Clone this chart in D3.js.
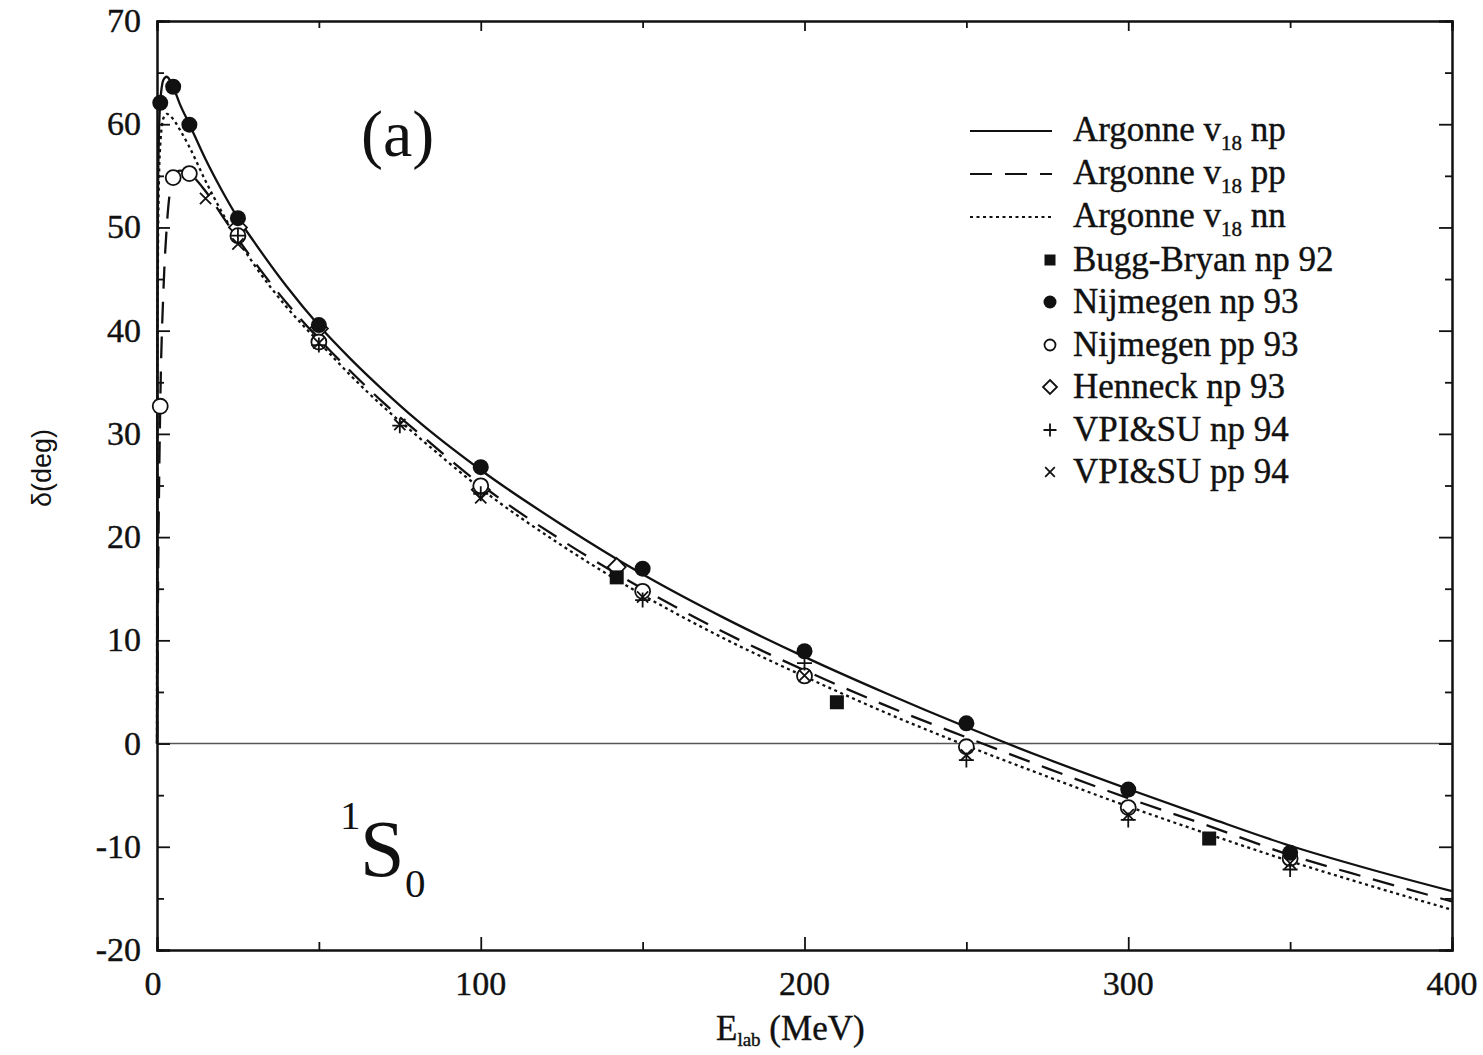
<!DOCTYPE html>
<html>
<head>
<meta charset="utf-8">
<script src="https://cdn.jsdelivr.net/npm/d3@7"></script>
<style>
  html, body { margin: 0; padding: 0; background: #fff; }
  svg { display: block; }
</style>
</head>
<body>
<svg id="chart" width="1483" height="1055"></svg>
<script>
// ---------------- data ----------------
const energies = [0, 0.1, 0.3, 0.5, 1, 2, 3, 5, 7, 10, 15, 20, 25, 30, 40, 50, 60, 70, 80, 100, 125, 150, 175, 200, 225, 250, 275, 300, 325, 350, 375, 400];
const av18np = [0, 40, 53, 57.5, 62.1, 64.3, 64.6, 63.6, 62.0, 60.0, 56.6, 53.6, 50.9, 48.6, 44.3, 40.5, 37.2, 34.2, 31.4, 26.5, 21.2, 16.4, 12.2, 8.4, 4.9, 1.6, -1.5, -4.4, -7.2, -9.9, -12.2, -14.3];
const av18pp = [0, 3, 14, 21, 32.7, 44, 50, 54.8, 55.5, 55.2, 53.5, 51.2, 48.9, 46.7, 42.7, 39.2, 36.0, 33.0, 30.3, 25.1, 19.7, 15.0, 10.8, 7.1, 3.7, 0.6, -2.4, -5.3, -8.0, -10.8, -13.1, -15.3];
const av18nn = [0, 30, 47, 53, 58, 60.6, 61.0, 60.5, 59.5, 57.8, 54.5, 51.5, 48.8, 46.4, 42.3, 38.9, 35.6, 32.6, 29.9, 24.7, 19.2, 14.4, 10.2, 6.5, 3.0, -0.2, -3.2, -6.1, -8.8, -11.4, -13.8, -16.1];

const buggBryanNp92 = [[142, 16.1], [210, 4.0], [325, -9.2]];
const nijmegenNp93 = [[1, 62.07], [5, 63.63], [10, 59.96], [25, 50.90], [50, 40.54], [100, 26.78], [150, 16.94], [200, 8.94], [250, 1.96], [300, -4.46], [350, -10.59]];
const nijmegenPp93 = [[1, 32.68], [5, 54.83], [10, 55.22], [25, 49.2], [50, 38.9], [100, 24.97], [150, 14.75], [200, 6.55], [250, -0.31], [300, -6.20], [350, -11.13]];
const henneckNp93 = [[25, 50.0], [50, 40.2], [100, 24.6], [142, 17.1]];
const vpiNp94 = [[25, 49.2], [50, 38.6], [75, 30.8], [100, 24.2], [150, 13.9], [200, 7.8], [250, -1.6], [300, -7.4], [350, -12.2]];
const vpiPp94 = [[15, 52.8], [25, 48.4], [50, 38.8], [75, 30.9], [100, 23.8], [150, 14.2], [200, 6.6], [250, -1.1], [300, -6.9], [350, -11.6]];

const xTicks = [0, 100, 200, 300, 400];
const xMinorTicks = [50, 150, 250, 350];
const yTicks = [-20, -10, 0, 10, 20, 30, 40, 50, 60, 70];
const yMinorTicks = [-15, -5, 5, 15, 25, 35, 45, 55, 65];

const curveLabels = ["Argonne v", "Argonne v", "Argonne v"];
const curveSuffix = [" np", " pp", " nn"];
const markerLabels = ["Bugg-Bryan np 92", "Nijmegen np 93", "Nijmegen pp 93", "Henneck np 93", "VPI&SU np 94", "VPI&SU pp 94"];

// ---------------- layout ----------------
const svg = d3.select("#chart");
const L = 157, R = 1452, T = 21, B = 950;
const x = d3.scaleLinear().domain([0, 400]).range([L, R]);
const y = d3.scaleLinear().domain([-20, 70]).range([B, T]);
const serif = "'Liberation Serif', 'Times New Roman', serif";
const sans = "'Liberation Sans', Arial, sans-serif";
const ink = "#111";

// zero line
svg.append("line")
  .attr("x1", x(0)).attr("x2", x(400))
  .attr("y1", y(0)).attr("y2", y(0))
  .attr("stroke", "#555").attr("stroke-width", 1.6);

// axes (ticks inward)
const axB = d3.axisBottom(x).tickValues(xTicks).tickSize(-13).tickFormat("");
const axBm = d3.axisBottom(x).tickValues(xMinorTicks).tickSize(-8).tickFormat("");
const axT = d3.axisTop(x).tickValues(xTicks).tickSize(-10).tickFormat("");
const axTm = d3.axisTop(x).tickValues(xMinorTicks).tickSize(-7).tickFormat("");
const axL = d3.axisLeft(y).tickValues(yTicks).tickSize(-13).tickFormat("");
const axLm = d3.axisLeft(y).tickValues(yMinorTicks).tickSize(-7).tickFormat("");
const axR = d3.axisRight(y).tickValues(yTicks).tickSize(-13).tickFormat("");
const axRm = d3.axisRight(y).tickValues(yMinorTicks).tickSize(-7).tickFormat("");

function addAxis(ax, tr) {
  const g = svg.append("g").attr("transform", tr).call(ax);
  g.selectAll("path.domain").attr("stroke", ink).attr("stroke-width", 2);
  g.selectAll(".tick line").attr("stroke", ink).attr("stroke-width", 1.8);
  return g;
}
addAxis(axB, `translate(0,${B})`);
addAxis(axBm, `translate(0,${B})`);
addAxis(axT, `translate(0,${T})`);
addAxis(axTm, `translate(0,${T})`);
addAxis(axL, `translate(${L},0)`);
addAxis(axLm, `translate(${L},0)`);
addAxis(axR, `translate(${R},0)`);
addAxis(axRm, `translate(${R},0)`);

// tick labels
svg.append("g").selectAll("text").data(yTicks).join("text")
  .attr("x", L - 16).attr("y", d => y(d) + 11)
  .attr("text-anchor", "end")
  .attr("font-family", serif).attr("font-size", 34)
  .attr("fill", ink).attr("stroke", ink).attr("stroke-width", 0.4)
  .text(d => d);
svg.append("g").selectAll("text").data(xTicks).join("text")
  .attr("x", d => x(d) - (d === 0 ? 4 : 0)).attr("y", B + 45)
  .attr("text-anchor", "middle")
  .attr("font-family", serif).attr("font-size", 34)
  .attr("fill", ink).attr("stroke", ink).attr("stroke-width", 0.4)
  .text(d => d);

// axis titles
svg.append("text")
  .attr("transform", "translate(51,468) rotate(-90)")
  .attr("text-anchor", "middle")
  .attr("font-family", sans).attr("font-size", 27).attr("fill", ink)
  .text("δ(deg)");
const xt = svg.append("text")
  .attr("x", 716).attr("y", 1040)
  .attr("font-family", serif).attr("font-size", 35).attr("fill", ink)
  .attr("stroke", ink).attr("stroke-width", 0.4);
xt.append("tspan").text("E");
xt.append("tspan").attr("dy", 6).attr("font-size", 19).text("lab");
xt.append("tspan").attr("dy", -6).text(" (MeV)");

// curves
const line = d3.line().x(d => x(d[0])).y(d => y(d[1])).curve(d3.curveMonotoneX);
const curveDefs = [
  { vals: av18np, dash: null, w: 2.3 },
  { vals: av18pp, dash: "22,13", w: 2.3 },
  { vals: av18nn, dash: "3,3.5", w: 2.3 }
];
curveDefs.forEach(c => {
  svg.append("path")
    .datum(energies.map((e, i) => [e, c.vals[i]]))
    .attr("d", line)
    .attr("fill", "none")
    .attr("stroke", ink)
    .attr("stroke-width", c.w)
    .attr("stroke-dasharray", c.dash);
});

// markers
function drawMarker(g, type, cx, cy, s) {
  if (type === "square") {
    g.append("rect").attr("x", cx - s / 2).attr("y", cy - s / 2).attr("width", s).attr("height", s).attr("fill", ink);
  } else if (type === "filled") {
    g.append("circle").attr("cx", cx).attr("cy", cy).attr("r", s / 2).attr("fill", ink);
  } else if (type === "open") {
    g.append("circle").attr("cx", cx).attr("cy", cy).attr("r", s / 2 - 1).attr("fill", "#fff").attr("stroke", ink).attr("stroke-width", 1.8);
  } else if (type === "diamond") {
    const h = s / 2;
    g.append("path").attr("d", `M${cx},${cy - h}L${cx + h},${cy}L${cx},${cy + h}L${cx - h},${cy}Z`)
      .attr("fill", "#fff").attr("stroke", ink).attr("stroke-width", 1.8);
  } else if (type === "plus") {
    const h = s / 2;
    g.append("path").attr("d", `M${cx - h},${cy}H${cx + h}M${cx},${cy - h}V${cy + h}`)
      .attr("stroke", ink).attr("stroke-width", 1.8);
  } else if (type === "times") {
    const h = s / 2 * 0.8;
    g.append("path").attr("d", `M${cx - h},${cy - h}L${cx + h},${cy + h}M${cx - h},${cy + h}L${cx + h},${cy - h}`)
      .attr("stroke", ink).attr("stroke-width", 1.8);
  }
}
const markerSets = [
  { data: henneckNp93, type: "diamond", s: 18 },
  { data: nijmegenPp93, type: "open", s: 17 },
  { data: vpiNp94, type: "plus", s: 15 },
  { data: vpiPp94, type: "times", s: 14 },
  { data: buggBryanNp92, type: "square", s: 14 },
  { data: nijmegenNp93, type: "filled", s: 16 }
];
const gm = svg.append("g");
markerSets.forEach(m => m.data.forEach(d => drawMarker(gm, m.type, x(d[0]), y(d[1]), m.s)));

// legend
const lg = svg.append("g");
const rowY = [131, 174, 217, 260, 302, 345, 387, 430, 472];
curveDefs.forEach((c, i) => {
  lg.append("line").attr("x1", 970).attr("x2", 1052).attr("y1", rowY[i]).attr("y2", rowY[i])
    .attr("stroke", ink).attr("stroke-width", 2).attr("stroke-dasharray", c.dash);
  const t = lg.append("text").attr("x", 1073).attr("y", rowY[i] + 10)
    .attr("font-family", serif).attr("font-size", 35).attr("fill", ink)
    .attr("stroke", ink).attr("stroke-width", 0.4);
  t.append("tspan").text(curveLabels[i]);
  t.append("tspan").attr("dy", 9).attr("font-size", 21).text("18");
  t.append("tspan").attr("dy", -9).text(curveSuffix[i]);
});
const legendTypes = ["square", "filled", "open", "diamond", "plus", "times"];
const legendSizes = [11, 13, 13, 14, 13, 12];
markerLabels.forEach((lab, i) => {
  const yy = rowY[i + 3];
  drawMarker(lg, legendTypes[i], 1050, yy, legendSizes[i]);
  lg.append("text").attr("x", 1073).attr("y", yy + 11)
    .attr("font-family", serif).attr("font-size", 35).attr("fill", ink)
    .attr("stroke", ink).attr("stroke-width", 0.4)
    .text(lab);
});

// panel annotations
svg.append("text").attr("x", 361).attr("y", 156)
  .attr("font-family", serif).attr("font-size", 66).attr("fill", ink).text("(a)");
const st = svg.append("text").attr("font-family", serif).attr("fill", ink);
st.append("tspan").attr("x", 340).attr("y", 829).attr("font-size", 41).text("1");
st.append("tspan").attr("x", 360).attr("y", 876).attr("font-size", 80).text("S");
st.append("tspan").attr("x", 405).attr("y", 897).attr("font-size", 41).text("0");
</script>
</body>
</html>
